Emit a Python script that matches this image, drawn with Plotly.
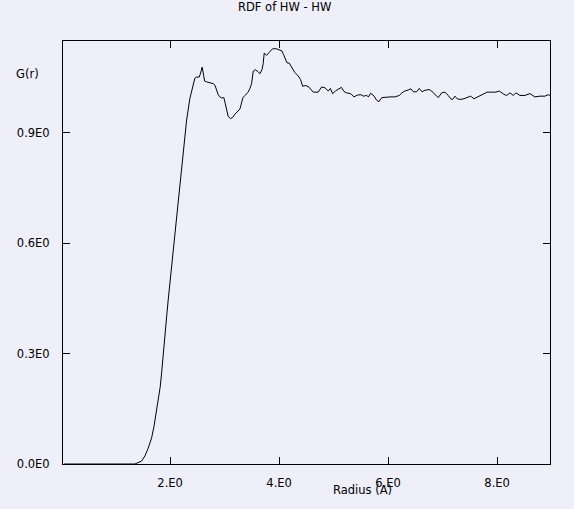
import plotly.graph_objects as go

# Radius (A) values
radius = [0.05, 0.50, 1.00, 1.354, 1.477, 1.538, 1.598, 1.661, 1.703, 1.734, 1.763, 1.794,
          1.818, 1.844, 1.873, 1.905, 1.936, 1.965, 1.996, 2.028, 2.057, 2.088, 2.119, 2.152,
          2.180, 2.240, 2.303, 2.363, 2.424, 2.455, 2.486, 2.534, 2.560, 2.589, 2.615, 2.633,
          2.670, 2.730, 2.791, 2.822, 2.853, 2.883, 2.914, 2.945, 2.987, 3.011, 3.037, 3.066,
          3.110, 3.147, 3.189, 3.231, 3.281, 3.299, 3.336, 3.372, 3.433, 3.464, 3.495, 3.525,
          3.565, 3.617, 3.648, 3.688, 3.708, 3.727, 3.771, 3.818, 3.881, 3.947, 3.996, 4.051,
          4.079, 4.116, 4.143, 4.185, 4.248, 4.290, 4.350, 4.394, 4.431, 4.492, 4.552, 4.626,
          4.717, 4.780, 4.840, 4.901, 4.941, 4.982, 5.033, 5.097, 5.143, 5.189, 5.235, 5.281,
          5.330, 5.372, 5.437, 5.501, 5.547, 5.606, 5.639, 5.679, 5.739, 5.789, 5.831, 5.881,
          5.960, 6.033, 6.125, 6.204, 6.253, 6.308, 6.372, 6.418, 6.464, 6.523, 6.571, 6.620,
          6.675, 6.754, 6.798, 6.859, 6.919, 6.982, 7.042, 7.103, 7.147, 7.183, 7.226, 7.268,
          7.317, 7.391, 7.451, 7.514, 7.574, 7.635, 7.697, 7.758, 7.818, 7.899, 7.978, 8.039,
          8.083, 8.125, 8.174, 8.235, 8.296, 8.345, 8.418, 8.510, 8.602, 8.693, 8.785, 8.877,
          8.938, 8.970]

# G(r) values
g_r = [0.000, 0.000, 0.000, 0.000, 0.008, 0.022, 0.043, 0.071, 0.101, 0.128, 0.156, 0.183,
       0.209, 0.247, 0.302, 0.356, 0.400, 0.446, 0.492, 0.527, 0.581, 0.628, 0.672, 0.717,
       0.772, 0.853, 0.935, 0.994, 1.035, 1.049, 1.052, 1.052, 1.063, 1.079, 1.057, 1.041,
       1.039, 1.036, 1.034, 1.030, 1.016, 1.004, 0.998, 0.995, 0.996, 0.980, 0.957, 0.945,
       0.939, 0.942, 0.951, 0.957, 0.965, 0.975, 0.996, 1.002, 1.011, 1.021, 1.034, 1.068,
       1.072, 1.066, 1.061, 1.073, 1.089, 1.117, 1.111, 1.119, 1.129, 1.129, 1.126, 1.123,
       1.114, 1.100, 1.091, 1.090, 1.075, 1.064, 1.055, 1.045, 1.027, 1.029, 1.024, 1.011,
       1.011, 1.025, 1.023, 1.014, 1.021, 1.007, 1.014, 1.020, 1.024, 1.013, 1.009, 1.008,
       1.005, 0.998, 1.003, 1.004, 1.000, 1.002, 0.998, 1.008, 1.001, 0.989, 0.985, 0.996,
       0.998, 0.998, 0.998, 1.002, 1.009, 1.014, 1.017, 1.020, 1.012, 1.012, 1.021, 1.012,
       1.016, 1.018, 1.014, 1.005, 0.996, 1.009, 1.011, 1.002, 0.993, 0.991, 1.000, 0.993,
       0.991, 0.993, 0.996, 1.000, 0.993, 0.998, 1.002, 1.007, 1.011, 1.011, 1.011, 1.014,
       1.009, 1.005, 1.002, 1.009, 1.002, 1.009, 1.002, 1.002, 1.007, 0.998, 1.000, 1.000,
       1.004, 1.002]

x_tick_vals = [2, 4, 6, 8]
x_tick_text = ["2.E0", "4.E0", "6.E0", "8.E0"]
y_tick_vals = [0.0, 0.3, 0.6, 0.9]
y_tick_text = ["0.0E0", "0.3E0", "0.6E0", "0.9E0"]

BG = "#efeffa"
FONT = dict(family="DejaVu Sans", size=11.5, color="black")

fig = go.Figure()
fig.add_trace(go.Scatter(x=radius, y=g_r, mode="lines",
                         line=dict(color="black", width=1), showlegend=False,
                         hoverinfo="skip"))

axis_common = dict(showline=True, linecolor="black", linewidth=1, mirror="ticks",
                   ticks="inside", ticklen=7, tickcolor="black", tickwidth=1,
                   showgrid=False, zeroline=False, tickfont=FONT)

fig.update_layout(
    width=574, height=509,
    margin=dict(l=63, r=24, t=41, b=45),
    paper_bgcolor=BG, plot_bgcolor=BG,
    font=FONT,
    xaxis=dict(range=[0.035, 8.97], tickmode="array", tickvals=x_tick_vals,
               ticktext=x_tick_text, ticklabelstandoff=8, **axis_common),
    yaxis=dict(range=[0, 1.15], tickmode="array", tickvals=y_tick_vals,
               ticktext=y_tick_text, ticklabelstandoff=10, **axis_common),
    annotations=[
        dict(text="RDF of HW - HW", xref="paper", yref="paper", x=0.4538, y=1.0797,
             xanchor="center", yanchor="middle", showarrow=False, font=FONT),
        dict(text="G(r)", xref="paper", yref="paper", x=-0.0723, y=0.922,
             xanchor="center", yanchor="middle", showarrow=False, font=FONT),
        dict(text="Radius (A)", xref="paper", yref="paper", x=0.616, y=-0.0615,
             xanchor="center", yanchor="middle", showarrow=False, font=FONT),
    ],
)

fig.write_html(
    "out.html",
    config={"displayModeBar": False},
    post_script="document.body.style.margin='0';document.body.style.background='" + BG + "';",
)
